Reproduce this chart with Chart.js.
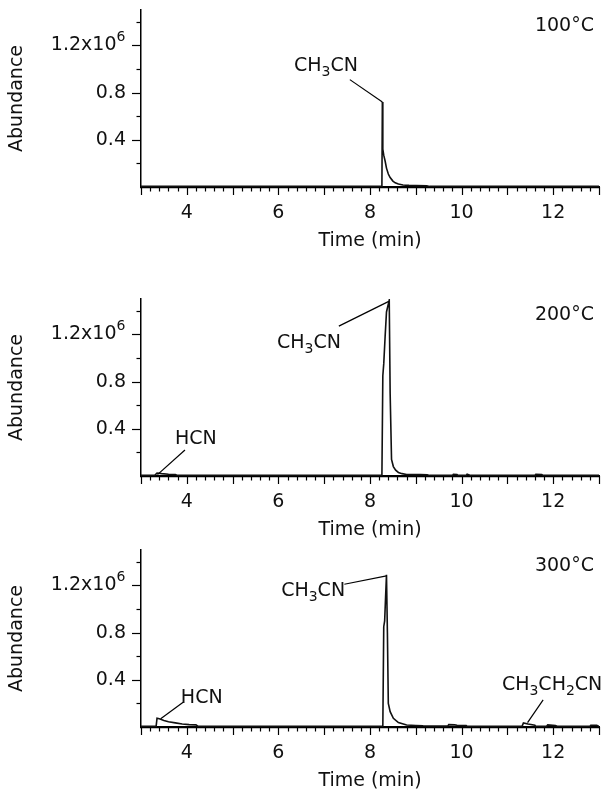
<!DOCTYPE html>
<html>
<head>
<meta charset="utf-8">
<script src="https://cdn.jsdelivr.net/npm/chart.js@4.4.1/dist/chart.umd.min.js"></script>
<style>
  html, body { margin: 0; padding: 0; background: #fff; width: 615px; height: 801px; overflow: hidden; }
  .panel { position: absolute; left: 0; width: 615px; height: 260px; }
  .panel canvas { display: block; }
</style>
</head>
<body>
<div class="panel" style="top:0px"><canvas id="c100" width="615" height="260" style="width:615px;height:260px"></canvas></div>
<div class="panel" style="top:289px"><canvas id="c200" width="615" height="260" style="width:615px;height:260px"></canvas></div>
<div class="panel" style="top:540px"><canvas id="c300" width="615" height="260" style="width:615px;height:260px"></canvas></div>
<script>
// ---------------- data (time in min, abundance in counts) ----------------
const time100  = [3.0, 8.26, 8.27, 8.28, 8.30, 8.33, 8.36, 8.40, 8.44, 8.50, 8.55, 8.62, 8.72, 8.85, 9.00, 9.24, 9.30, 13.0];
const abund100 = [5000, 5000, 720000, 320000, 270000, 220000, 160000, 110000, 80000, 50000, 35000, 25000, 17000, 14000, 12000, 10000, 5000, 5000];

const time200  = [3.0, 3.30, 3.35, 3.45, 3.60, 3.75, 3.80, 8.26, 8.28, 8.30, 8.33, 8.36, 8.42, 8.44, 8.47, 8.51, 8.56, 8.62, 8.70, 8.80, 8.95, 9.10, 9.25, 9.30, 9.80, 9.82, 9.90, 9.92, 10.10, 10.12, 10.20, 11.60, 11.62, 11.75, 11.78, 13.0];
const abund200 = [5000, 5000, 25000, 20000, 15000, 12000, 5000, 5000, 850000, 950000, 1180000, 1390000, 1490000, 700000, 140000, 80000, 50000, 30000, 20000, 13000, 12000, 12000, 10000, 5000, 5000, 15000, 12000, 5000, 5000, 15000, 5000, 5000, 15000, 12000, 5000, 5000];

const time300  = [3.0, 3.33, 3.35, 3.40, 3.50, 3.60, 3.75, 3.90, 4.05, 4.20, 4.25, 8.28, 8.30, 8.32, 8.34, 8.36, 8.38, 8.40, 8.44, 8.51, 8.62, 8.80, 9.00, 9.16, 9.40, 9.70, 9.72, 9.85, 9.90, 10.10, 10.12, 11.32, 11.35, 11.45, 11.60, 11.62, 11.85, 11.88, 12.05, 12.10, 12.80, 12.82, 12.95, 13.0];
const abund300 = [5000, 5000, 75000, 70000, 55000, 45000, 35000, 25000, 20000, 18000, 5000, 5000, 850000, 900000, 1100000, 1290000, 800000, 200000, 130000, 74000, 37000, 17000, 13000, 10000, 8000, 8000, 20000, 18000, 15000, 12000, 5000, 5000, 35000, 25000, 15000, 5000, 5000, 18000, 12000, 5000, 5000, 15000, 15000, 5000];

const xTickValues = [4, 6, 8, 10, 12];
const xTickLabels = ['4', '6', '8', '10', '12'];
const yTickValues = [400000, 800000, 1200000];
const yTickLabels = ['0.4', '0.8', '1.2x10'];
const yTickExponent = '6';
const panelTitles = ['100°C', '200°C', '300°C'];
const xTitle = 'Time (min)';
const yTitle = 'Abundance';

// annotation labels: text parts [text, isSubscript]
const labelCH3CN = [['CH', 0], ['3', 1], ['CN', 0]];
const labelHCN = [['HCN', 0]];
const labelCH3CH2CN = [['CH', 0], ['3', 1], ['CH', 0], ['2', 1], ['CN', 0]];

// ---------------- layout / style ----------------
const FONT = 'DejaVu Sans';
const INK = '#111';
const X_MIN = 3, X_MAX = 13, Y_MIN = 0, Y_MAX = 1500000;
const X_MINOR_STEP = 0.2, Y_MINOR_STEP = 200000;

const notes = [
  [ { parts: labelCH3CN, at: [6.34, 1040000], from: [7.56, 910000], to: [8.27, 720000] } ],
  [ { parts: labelCH3CN, at: [5.97, 1140000], from: [7.32, 1270000], to: [8.41, 1480000] },
    { parts: labelHCN, at: [3.74, 330000], from: [3.96, 220000], to: [3.36, 12000] } ],
  [ { parts: labelCH3CN, at: [6.06, 1170000], from: [7.44, 1210000], to: [8.36, 1280000] },
    { parts: labelHCN, at: [3.87, 260000], from: [3.92, 210000], to: [3.43, 70000] },
    { parts: labelCH3CH2CN, at: [10.88, 370000], from: [11.78, 230000], to: [11.44, 37000] } ]
];
const titleAt = [12.89, 1380000];

function drawParts(ctx, parts, x, cy) {
  const base = cy + 7;
  let cx = x;
  for (const [txt, sub] of parts) {
    ctx.font = (sub ? '14px ' : '19px ') + '"' + FONT + '"';
    ctx.textBaseline = 'alphabetic';
    ctx.textAlign = 'left';
    ctx.fillText(txt, cx, sub ? base + 5 : base);
    cx += ctx.measureText(txt).width;
  }
}

const decor = {
  id: 'decor',
  afterDraw(chart, args, opts) {
    const { ctx, chartArea: ca } = chart;
    const x = chart.scales.x, y = chart.scales.y;
    ctx.save();
    ctx.strokeStyle = '#000';
    ctx.lineWidth = 1.2;
    // x tick marks
    for (let i = 0; X_MIN + i * X_MINOR_STEP <= X_MAX + 1e-9; i++) {
      const v = X_MIN + i * X_MINOR_STEP;
      const major = i % 5 === 0;
      const px = Math.round(x.getPixelForValue(v)) + 0.5;
      ctx.beginPath();
      ctx.moveTo(px, ca.bottom);
      ctx.lineTo(px, ca.bottom + (major ? 8 : 4.5));
      ctx.stroke();
    }
    // y tick marks
    for (let i = 1; i * Y_MINOR_STEP < Y_MAX; i++) {
      const v = i * Y_MINOR_STEP;
      const major = yTickValues.includes(v);
      const py = Math.round(y.getPixelForValue(v)) + 0.5;
      ctx.beginPath();
      ctx.moveTo(ca.left, py);
      ctx.lineTo(ca.left - (major ? 9 : 4.5), py);
      ctx.stroke();
    }
    // exponent on top label
    ctx.fillStyle = INK;
    ctx.font = '19px "' + FONT + '"';
    const gap = ctx.measureText('\u2002').width;
    const lblRight = ca.left - 15;
    ctx.font = '14px "' + FONT + '"';
    ctx.textAlign = 'left';
    ctx.textBaseline = 'alphabetic';
    ctx.fillText(yTickExponent, lblRight - gap, y.getPixelForValue(yTickValues[2]) - 4);
    // panel title
    ctx.font = '19px "' + FONT + '"';
    ctx.textAlign = 'right';
    ctx.fillText(opts.title, x.getPixelForValue(titleAt[0]), y.getPixelForValue(titleAt[1]) + 7);
    // annotations
    ctx.lineWidth = 1.2;
    for (const n of opts.notes) {
      ctx.beginPath();
      ctx.moveTo(x.getPixelForValue(n.from[0]), y.getPixelForValue(n.from[1]));
      ctx.lineTo(x.getPixelForValue(n.to[0]), y.getPixelForValue(n.to[1]));
      ctx.stroke();
      drawParts(ctx, n.parts, x.getPixelForValue(n.at[0]), y.getPixelForValue(n.at[1]));
    }
    ctx.restore();
  }
};

function makeChart(id, times, values, title, panelNotes) {
  const H = 260;
  return new Chart(document.getElementById(id), {
    type: 'line',
    data: {
      datasets: [{
        data: times.map((t, i) => ({ x: t, y: values[i] })),
        borderColor: INK,
        borderWidth: 1.6,
        pointRadius: 0,
        tension: 0,
        fill: false
      }]
    },
    options: {
      responsive: false,
      animation: false,
      devicePixelRatio: 1,
      layout: { padding: { left: 0, right: 16, top: 10, bottom: 0 } },
      plugins: { legend: { display: false }, tooltip: { enabled: false }, decor: { title: title, notes: panelNotes } },
      scales: {
        x: {
          type: 'linear', min: X_MIN, max: X_MAX,
          afterBuildTicks: s => { s.ticks = xTickValues.map(v => ({ value: v })); },
          afterFit: s => { s.height = H - 187; s.paddingLeft = 0; s.paddingRight = 0; },
          ticks: {
            callback: v => xTickLabels[xTickValues.indexOf(v)],
            font: { family: FONT, size: 19 }, color: INK, padding: 15,
            maxRotation: 0, autoSkip: false
          },
          grid: { display: false, drawTicks: false },
          border: { display: true, color: '#000', width: 2.2 },
          title: { display: true, text: xTitle, font: { family: FONT, size: 19 }, color: INK, padding: { top: 0, bottom: 8 } }
        },
        y: {
          type: 'linear', min: Y_MIN, max: Y_MAX,
          afterBuildTicks: s => { s.ticks = yTickValues.map(v => ({ value: v })); },
          afterFit: s => { s.width = 141; s.paddingTop = 0; s.paddingBottom = 0; },
          ticks: {
            callback: v => { const i = yTickValues.indexOf(v); return i === 2 ? yTickLabels[i] + '\u2002' : yTickLabels[i]; },
            font: { family: FONT, size: 19 }, color: INK, padding: 15
          },
          grid: { display: false, drawTicks: false },
          border: { display: true, color: '#000', width: 1.5 },
          title: { display: true, text: yTitle, font: { family: FONT, size: 19 }, color: INK, padding: { top: 6, bottom: 0 } }
        }
      }
    },
    plugins: [decor]
  });
}

makeChart('c100', time100, abund100, panelTitles[0], notes[0]);
makeChart('c200', time200, abund200, panelTitles[1], notes[1]);
makeChart('c300', time300, abund300, panelTitles[2], notes[2]);
</script>
</body>
</html>
